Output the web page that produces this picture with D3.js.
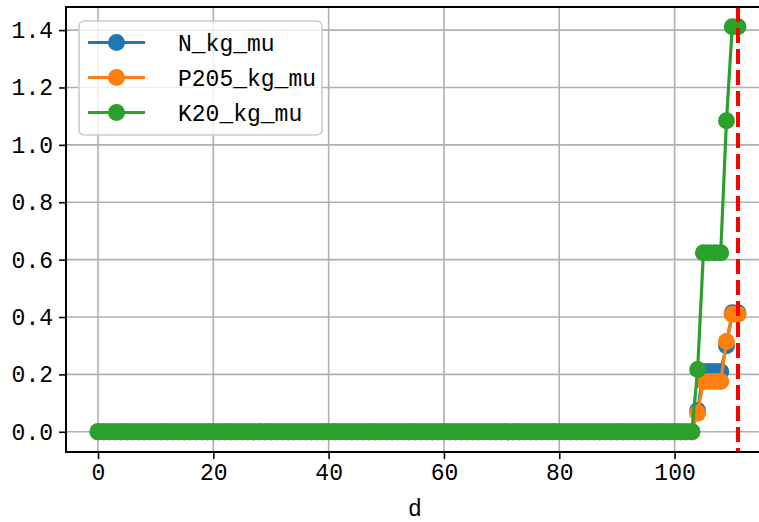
<!DOCTYPE html>
<html lang="en">
	<head>
		<meta charset="utf-8">
		<title>kg_mu by d</title>
		<script src="https://d3js.org/d3.v7.min.js"></script>
		<style>
			body { margin: 0; background: #fff; }
			text { font-family: "Liberation Mono", "DejaVu Sans Mono", monospace; fill: #000; }
		</style>
	</head>
	<body>
		<script type="text/javascript">

			// series values, one per day d (index 0..111)
			var N_kg_mu = [
				0,0,0,0,0,0,0,0,0,0, 0,0,0,0,0,0,0,0,0,0, 0,0,0,0,0,0,0,0,0,0,
				0,0,0,0,0,0,0,0,0,0, 0,0,0,0,0,0,0,0,0,0, 0,0,0,0,0,0,0,0,0,0,
				0,0,0,0,0,0,0,0,0,0, 0,0,0,0,0,0,0,0,0,0, 0,0,0,0,0,0,0,0,0,0,
				0,0,0,0,0,0,0,0,0,0, 0,0,0,0,
				0.074, 0.21, 0.21, 0.21, 0.21, 0.30, 0.415, 0.415
			];
			var P205_kg_mu = [
				0,0,0,0,0,0,0,0,0,0, 0,0,0,0,0,0,0,0,0,0, 0,0,0,0,0,0,0,0,0,0,
				0,0,0,0,0,0,0,0,0,0, 0,0,0,0,0,0,0,0,0,0, 0,0,0,0,0,0,0,0,0,0,
				0,0,0,0,0,0,0,0,0,0, 0,0,0,0,0,0,0,0,0,0, 0,0,0,0,0,0,0,0,0,0,
				0,0,0,0,0,0,0,0,0,0, 0,0,0,0,
				0.065, 0.175, 0.175, 0.175, 0.175, 0.315, 0.41, 0.41
			];
			var K20_kg_mu = [
				0,0,0,0,0,0,0,0,0,0, 0,0,0,0,0,0,0,0,0,0, 0,0,0,0,0,0,0,0,0,0,
				0,0,0,0,0,0,0,0,0,0, 0,0,0,0,0,0,0,0,0,0, 0,0,0,0,0,0,0,0,0,0,
				0,0,0,0,0,0,0,0,0,0, 0,0,0,0,0,0,0,0,0,0, 0,0,0,0,0,0,0,0,0,0,
				0,0,0,0,0,0,0,0,0,0, 0,0,0,0,
				0.217, 0.624, 0.624, 0.624, 0.624, 1.084, 1.412, 1.412
			];
			var seriesNames = ["N_kg_mu", "P205_kg_mu", "K20_kg_mu"];
			var seriesValues = [N_kg_mu, P205_kg_mu, K20_kg_mu];
			var seriesColors = ["#1f77b4", "#ff7f0e", "#2ca02c"];

			var xTicks = [0, 20, 40, 60, 80, 100];
			var yTicks = [0, 0.2, 0.4, 0.6, 0.8, 1.0, 1.2, 1.4];
			var vlineAt = 111;

			//Width and height of svg
			var w = 759;
			var h = 522;
			var pLeft = 66, pRight = 770, pTop = 7, pBottom = 452;

			//    Scale functions
			var xScale = d3.scaleLinear().domain([-5.55, 116.55]).range([pLeft, pRight]);
			var yScale = d3.scaleLinear().domain([-0.0705, 1.4805]).range([pBottom, pTop]);

			var svg = d3.select("body").append("svg").attr("width", w).attr("height", h);

			//    Grid
			svg.append("g").selectAll("line").data(xTicks).enter().append("line")
				.attr("x1", d => xScale(d)).attr("x2", d => xScale(d))
				.attr("y1", pTop).attr("y2", pBottom)
				.attr("stroke", "#b0b0b0").attr("stroke-width", 1.6);
			svg.append("g").selectAll("line").data(yTicks).enter().append("line")
				.attr("x1", pLeft).attr("x2", pRight)
				.attr("y1", d => yScale(d)).attr("y2", d => yScale(d))
				.attr("stroke", "#b0b0b0").attr("stroke-width", 1.6);

			//    Axes
			var xAxis = d3.axisBottom(xScale).tickValues(xTicks).tickSize(7).tickPadding(5)
				.tickFormat(d3.format("d"));
			var yAxis = d3.axisLeft(yScale).tickValues(yTicks).tickSize(7).tickPadding(6)
				.tickFormat(d3.format(".1f"));

			var gx = svg.append("g").attr("transform", `translate(0,${pBottom})`).call(xAxis);
			var gy = svg.append("g").attr("transform", `translate(${pLeft},0)`).call(yAxis);
			[gx, gy].forEach(function (g) {
				g.select(".domain").remove();
				g.selectAll(".tick line").attr("stroke", "#000").attr("stroke-width", 1.6);
				g.selectAll(".tick text").attr("font-size", 23).attr("font-family", null).attr("fill", "#000");
			});

			svg.append("text").attr("x", (pLeft + 764) / 2).attr("y", 516)
				.attr("text-anchor", "middle").attr("font-size", 23).text("d");

			//    Series
			var line = d3.line().x((d, i) => xScale(i)).y(d => yScale(d));
			seriesValues.forEach(function (vals, k) {
				var g = svg.append("g");
				g.append("path").datum(vals).attr("d", line)
					.attr("fill", "none").attr("stroke", seriesColors[k]).attr("stroke-width", 3.2);
				g.selectAll("circle").data(vals).enter().append("circle")
					.attr("cx", (d, i) => xScale(i)).attr("cy", d => yScale(d))
					.attr("r", 8.5).attr("fill", seriesColors[k]);
			});

			//    Vertical dashed marker
			svg.append("line")
				.attr("x1", xScale(vlineAt)).attr("x2", xScale(vlineAt))
				.attr("y1", pTop).attr("y2", pBottom)
				.attr("stroke", "#ff0000").attr("stroke-width", 4)
				.attr("stroke-dasharray", "15,6");

			//    Frame
			svg.append("rect").attr("x", pLeft).attr("y", pTop)
				.attr("width", pRight - pLeft).attr("height", pBottom - pTop)
				.attr("fill", "none").attr("stroke", "#000").attr("stroke-width", 2);

			//    Legend
			var leg = svg.append("g");
			leg.append("rect").attr("x", 79).attr("y", 21).attr("width", 243).attr("height", 114)
				.attr("rx", 5).attr("fill", "#fff").attr("fill-opacity", 0.8)
				.attr("stroke", "#cccccc").attr("stroke-width", 1.6);
			seriesNames.forEach(function (name, k) {
				var yy = 42.5 + k * 35;
				leg.append("line").attr("x1", 88).attr("x2", 145).attr("y1", yy).attr("y2", yy)
					.attr("stroke", seriesColors[k]).attr("stroke-width", 3.2);
				leg.append("circle").attr("cx", 116.5).attr("cy", yy).attr("r", 8.5)
					.attr("fill", seriesColors[k]);
				leg.append("text").attr("x", 178).attr("y", yy).attr("dy", "0.35em")
					.attr("font-size", 23).text(name);
			});

		</script>
	</body>
</html>
